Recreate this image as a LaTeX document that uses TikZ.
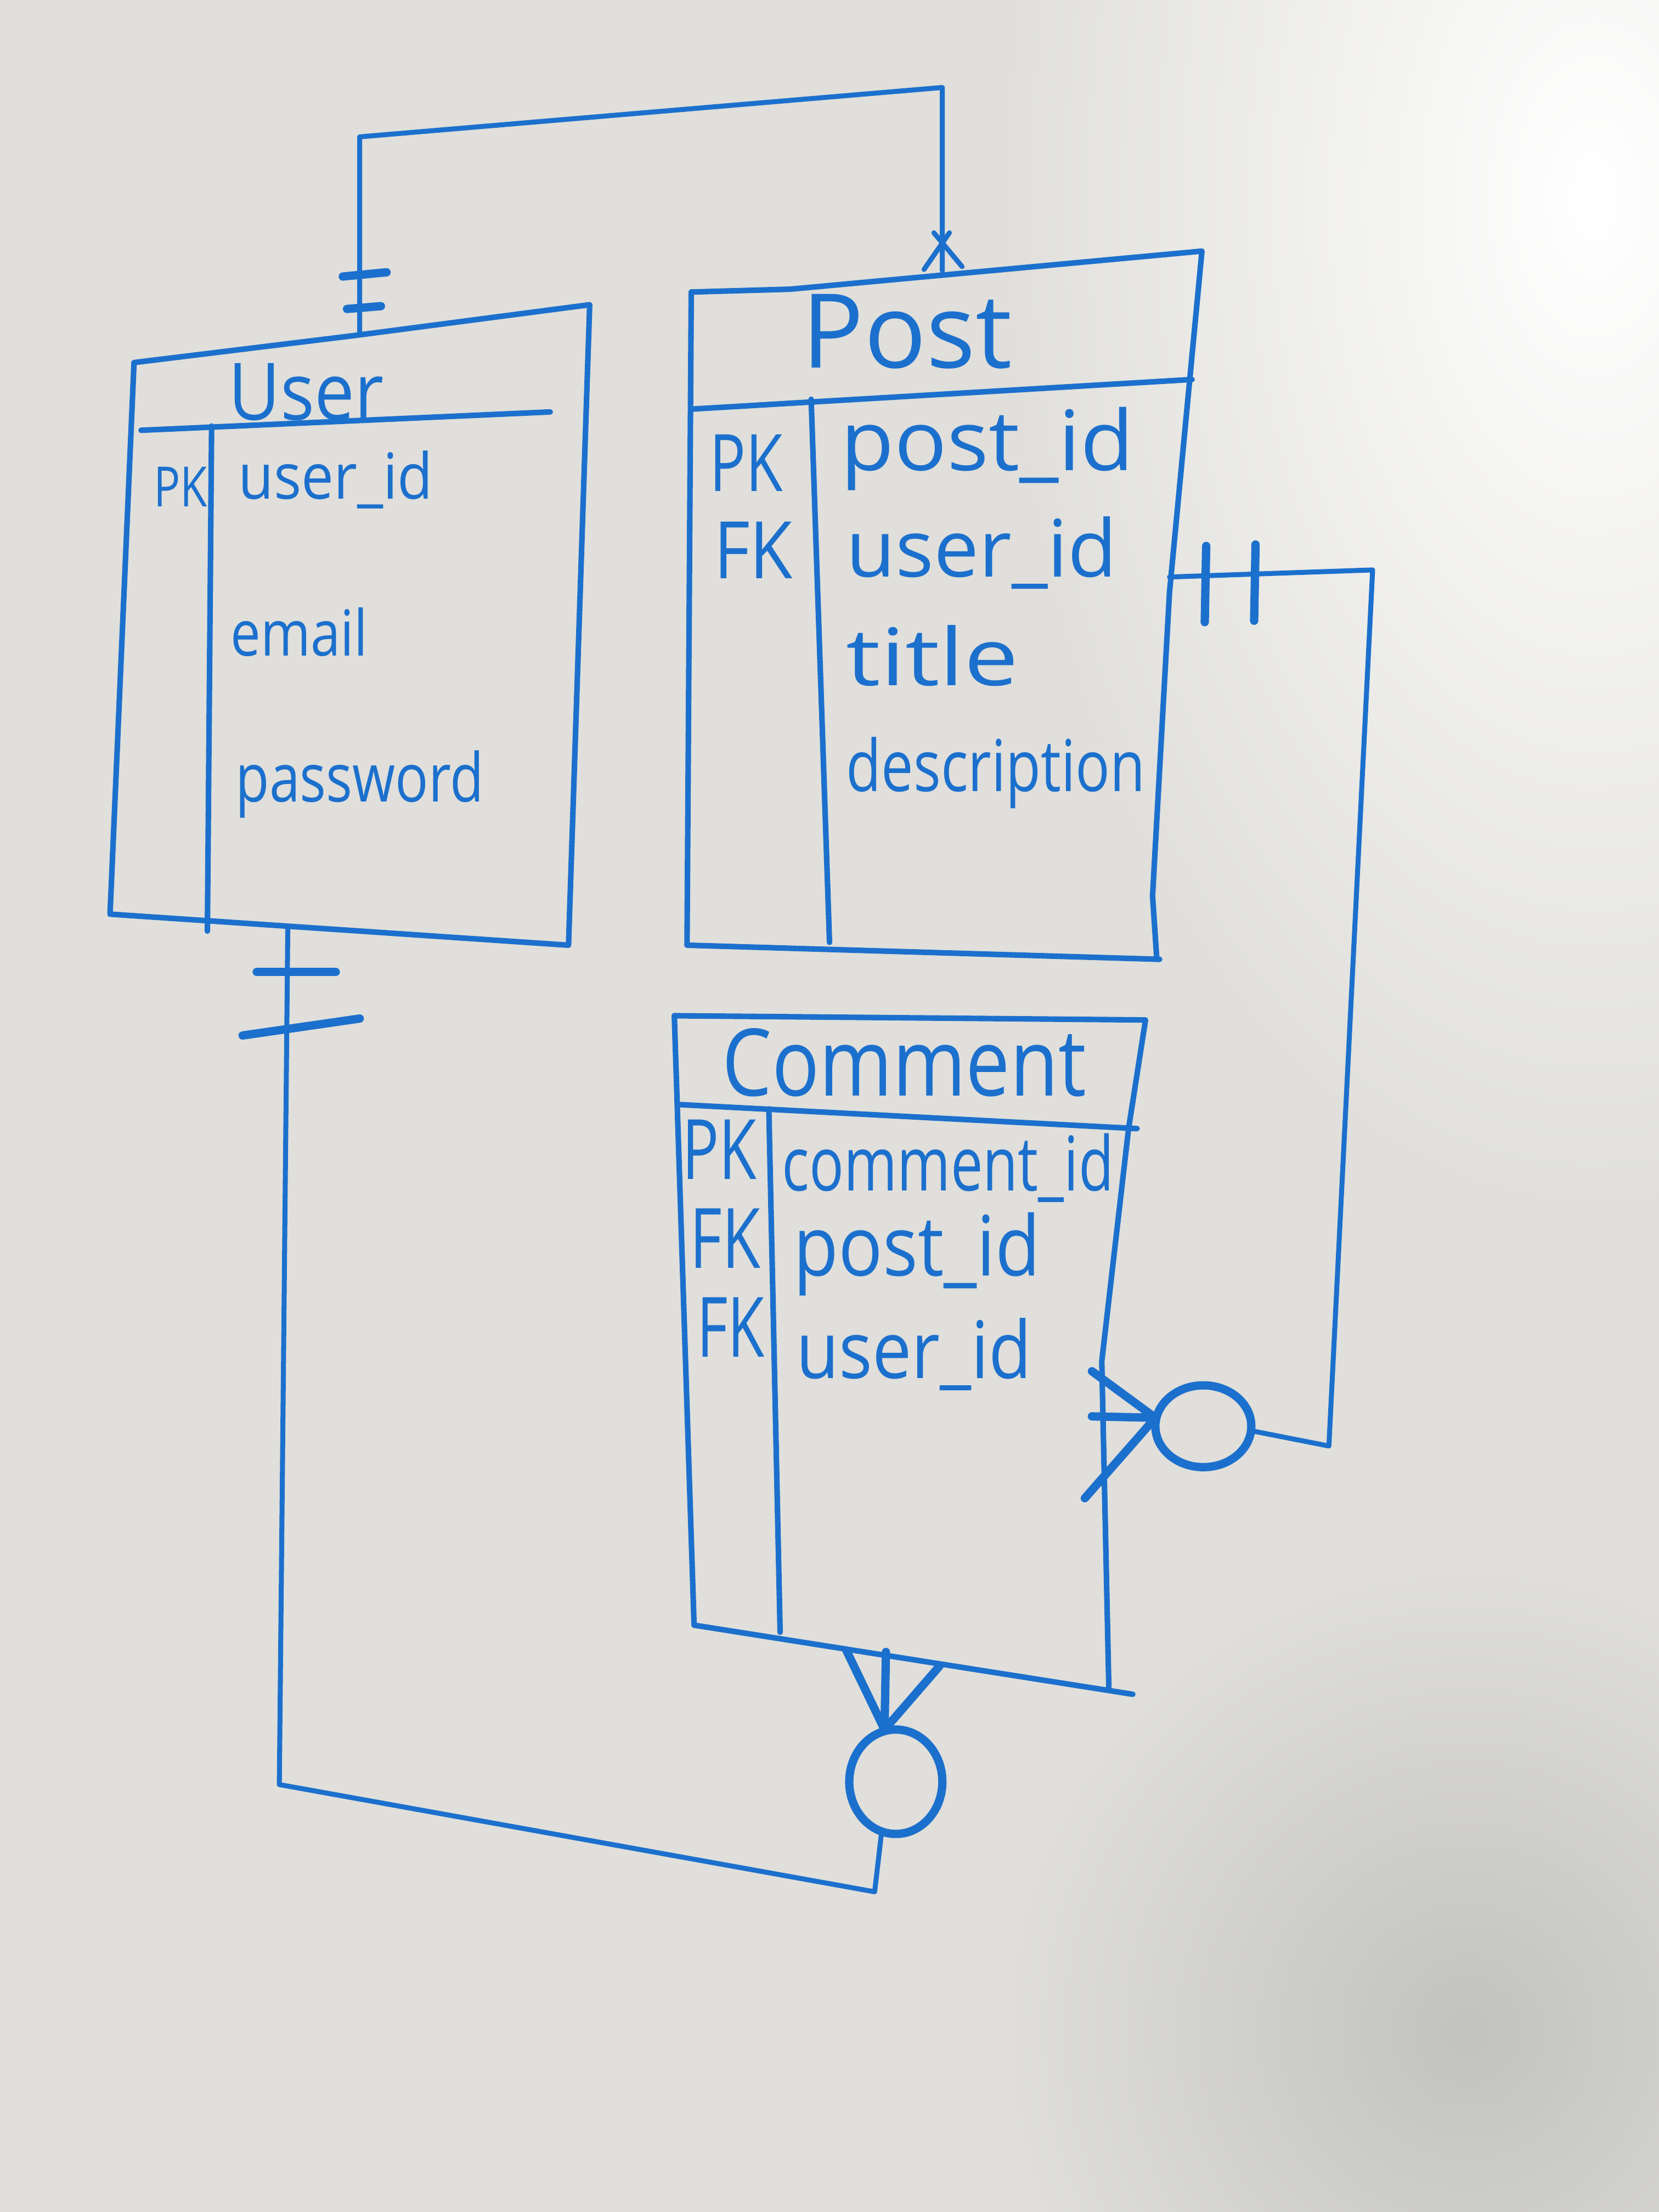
\documentclass[tikz,border=0pt]{standalone}
\usepackage{fontspec}
\setmainfont{Open Sans}
\usepackage{graphicx}
\definecolor{marker}{RGB}{28,112,205}
\definecolor{board}{RGB}{224,223,219}
\definecolor{shadowc}{RGB}{194,194,191}
\newlength\hu \setlength\hu{0.025cm}
\newcommand\hw[3]{\resizebox{#1\hu}{\height}{\fontsize{#2}{#2}\selectfont #3}}
\begin{document}
\begin{tikzpicture}[x=0.025cm,y=-0.025cm, line cap=round, line join=round,
  box/.style={draw=marker, line width=2.8pt},
  conn/.style={draw=marker, line width=2.5pt},
  bar/.style={draw=marker, line width=4.2pt},
  lbl/.style={text=marker, inner sep=0pt}]
\useasboundingbox (0,0) rectangle (1176,1568);
% board
\fill[board] (0,0) rectangle (1176,1568);
\shade[inner color=white, outer color=board] (1130,140) ellipse [x radius=420, y radius=720];
\shade[inner color=shadowc, outer color=board] (1040,1440) circle (340);

% ---------- User ----------
\draw[box] (95,257) -- (250,238) -- (418,216) -- (403,670) -- (78,648) -- cycle;
\draw[box] (100,305) -- (390,292);
\draw[box] (150,302) -- (147,660);
\node[lbl] (uT) at (217,278) {\hw{110}{40}{User}};
\node[lbl] (uPK) at (128,345) {\hw{38}{28}{PK}};
\node[lbl] (uA1) at (238,340) {\hw{138}{32}{user\_id}};
\node[lbl] (uA2) at (212,448) {\hw{97}{32}{email}};
\node[lbl] (uA3) at (255,556) {\hw{176}{34}{password}};

% ---------- Post ----------
\draw[box] (490,207) -- (560,205) -- (852,178) -- (829,420) -- (817,635) -- (820,680);
\draw[box] (490,207) -- (487,670) -- (822,680);
\draw[box] (490,290) -- (845,269);
\draw[box] (575,283) -- (588,668);
\node[lbl] (pT) at (643,235) {\hw{149}{52}{Post}};
\node[lbl] (pPK) at (529,328) {\hw{52}{40}{PK}};
\node[lbl] (pFK) at (534,390) {\hw{56}{40}{FK}};
\node[lbl] (pA1) at (700,318) {\hw{208}{42}{post\_id}};
\node[lbl] (pA2) at (696,392) {\hw{192}{40}{user\_id}};
\node[lbl] (pA3) at (661,465) {\hw{122}{40}{title}};
\node[lbl] (pA4) at (706,548) {\hw{212}{36}{description}};

% ---------- Comment ----------
\draw[box] (478,720) -- (812,723) -- (800,800) -- (781,965) -- (786,1196);
\draw[box] (478,720) -- (492,1152) -- (803,1201);
\draw[box] (482,783) -- (806,800);
\draw[box] (545,786) -- (553,1157);
\node[lbl] (cT) at (641,753) {\hw{258}{47}{Comment}};
\node[lbl] (cPK) at (510,815) {\hw{53}{42}{PK}};
\node[lbl] (cFK1) at (514,878) {\hw{50}{42}{FK}};
\node[lbl] (cFK2) at (518,941) {\hw{48}{42}{FK}};
\node[lbl] (cA1) at (672,828) {\hw{235}{38}{comment\_id}};
\node[lbl] (cA2) at (650,889) {\hw{175}{42}{post\_id}};
\node[lbl] (cA3) at (648,960) {\hw{167}{40}{user\_id}};

% ---------- connection points ----------
\coordinate (uTop) at (255,237);
\coordinate (uBot) at (204,658);
\coordinate (pTop) at (668,192);
\coordinate (pRight) at (829,409);
\coordinate (cRightO) at (819,1005);
\coordinate (cBotO) at (627,1226);
\coordinate (cBotC) at (625,1298);

% User -- Post (one to many)
\draw[conn] (uTop) -- (255,97) -- (668,62) -- (pTop);
\draw[bar] (243,196) -- (274,193);
\draw[bar] (246,219) -- (270,217);
\draw[conn] (662,165) -- (682,189);
\draw[conn] (673,165) -- (655,191);

% Post -- Comment (one to zero-or-many)
\draw[conn] (pRight) -- (973,404) -- (942,1025) -- (886,1014);
\draw[bar] (855,387) -- (854,441);
\draw[bar] (890,386) -- (889,440);
\draw[bar] (853,1011) ellipse [x radius=34, y radius=29];
\draw[bar] (cRightO) -- (774,972);
\draw[bar] (cRightO) -- (774,1004);
\draw[bar] (cRightO) -- (769,1062);

% User -- Comment (one to zero-or-many)
\draw[conn] (uBot) -- (198,1265) -- (620,1341) -- (cBotC);
\draw[bar] (182,689) -- (238,689);
\draw[bar] (172,734) -- (255,722);
\draw[bar] (635,1263) ellipse [x radius=33, y radius=37];
\draw[bar] (cBotO) -- (600,1170);
\draw[bar] (cBotO) -- (628,1171);
\draw[bar] (cBotO) -- (666,1181);
\end{tikzpicture}
\end{document}
